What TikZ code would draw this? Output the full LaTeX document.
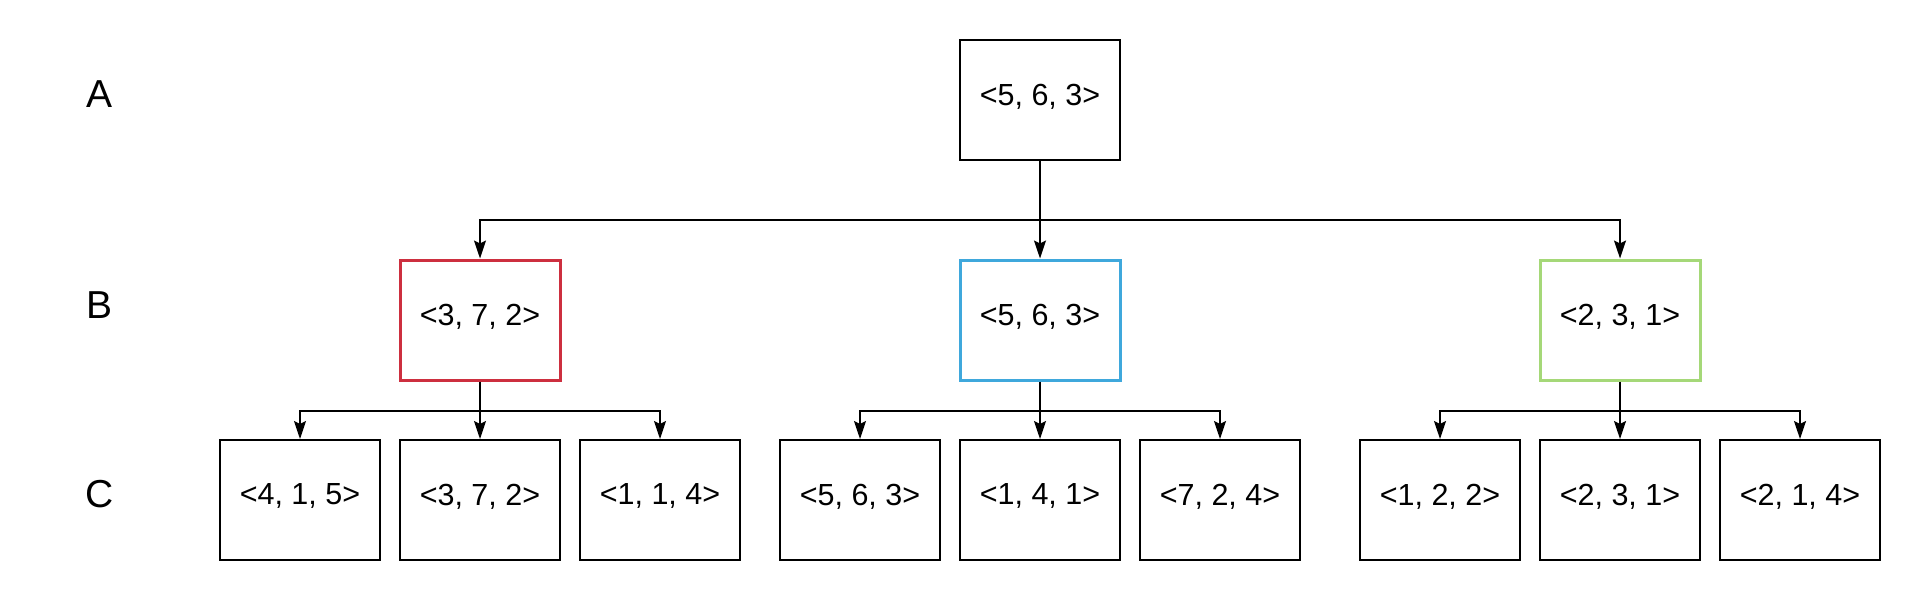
\documentclass[tikz,border=0pt]{standalone}
\usepackage{fontspec}
\setmainfont{Liberation Sans}
\usetikzlibrary{arrows.meta}
\definecolor{cred}{HTML}{CD2F3F}
\definecolor{cblue}{HTML}{3FA8DC}
\definecolor{cgreen}{HTML}{A5D878}
\begin{document}
\begin{tikzpicture}[x=1pt,y=-1pt,
  box/.style={draw=black,line width=2pt,minimum width=160pt,minimum height=120pt,inner sep=0pt,text depth=11pt,font=\fontsize{30.5}{36}\selectfont},
  lvl/.style={font=\fontsize{39}{46}\selectfont,inner sep=0pt},
  arr/.style={line width=1.6pt,-{Stealth[length=18pt,width=12pt,inset=3pt]}},
  ln/.style={line width=1.6pt}]
\useasboundingbox (0,0) rectangle (1920,600);
\node[lvl] (LA) at (100,94) {A};
\node[lvl] (LB) at (100,305) {B};
\node[lvl] (LC) at (100,494) {C};
\node[box] (A) at (1040,100) {<5, 6, 3>};
\node[box,draw=cred,line width=3pt] (B1) at (480,320) {<3, 7, 2>};
\node[box,draw=cblue,line width=3pt] (B2) at (1040,320) {<5, 6, 3>};
\node[box,draw=cgreen,line width=3pt] (B3) at (1620,320) {<2, 3, 1>};
\node[box] (C1) at (300,500) {<4, 1, 5>};
\node[box] (C2) at (480,500) {<3, 7, 2>};
\node[box] (C3) at (660,500) {<1, 1, 4>};
\node[box] (C4) at (860,500) {<5, 6, 3>};
\node[box] (C5) at (1040,500) {<1, 4, 1>};
\node[box] (C6) at (1220,500) {<7, 2, 4>};
\node[box] (C7) at (1440,500) {<1, 2, 2>};
\node[box] (C8) at (1620,500) {<2, 3, 1>};
\node[box] (C9) at (1800,500) {<2, 1, 4>};
\coordinate (jA) at (1040,220);
\coordinate (j1) at (480,411);
\coordinate (j2) at (1040,411);
\coordinate (j3) at (1620,411);
\draw[arr] (A.south) -- (B2.north);
\draw[arr] (jA) -| (B1.north);
\draw[arr] (jA) -| (B3.north);
\draw[arr] (B1.south) -- (C2.north);
\draw[arr] (j1) -| (C1.north);
\draw[arr] (j1) -| (C3.north);
\draw[arr] (B2.south) -- (C5.north);
\draw[arr] (j2) -| (C4.north);
\draw[arr] (j2) -| (C6.north);
\draw[arr] (B3.south) -- (C8.north);
\draw[arr] (j3) -| (C7.north);
\draw[arr] (j3) -| (C9.north);
\end{tikzpicture}
\end{document}
